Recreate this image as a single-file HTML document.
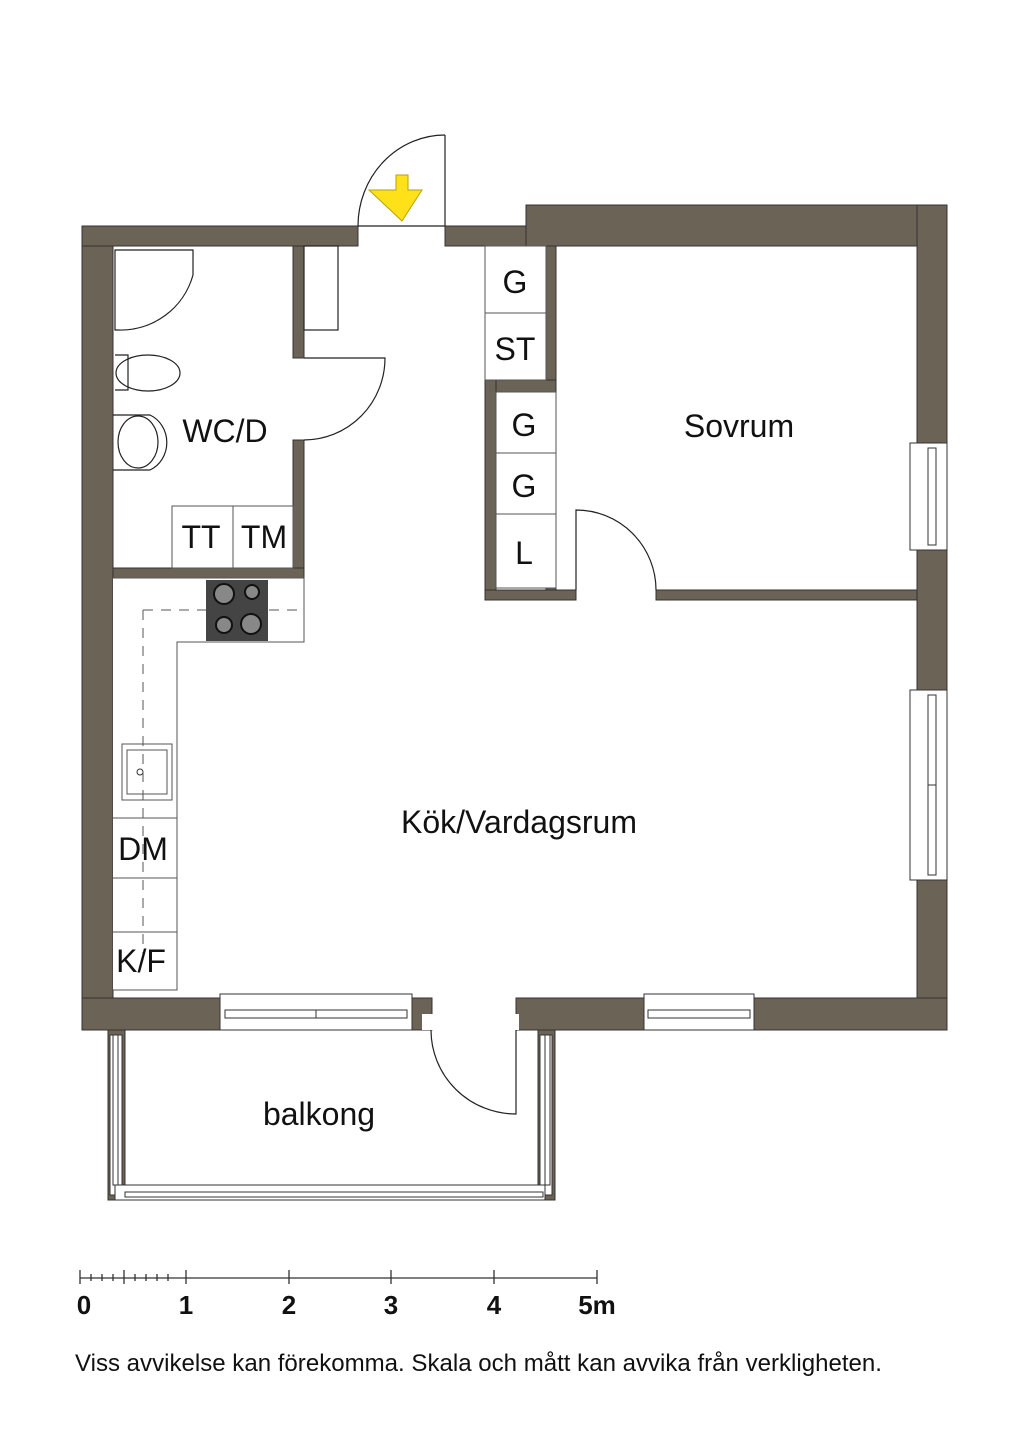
<!DOCTYPE html>
<html><head><meta charset="utf-8"><style>
html,body{margin:0;padding:0;background:#fff;}
svg{display:block;}
text{font-family:"Liberation Sans",Arial,sans-serif;fill:#111;}
</style></head><body>
<svg width="1024" height="1449" viewBox="0 0 1024 1449" xmlns="http://www.w3.org/2000/svg">
<g fill="#6b6356" stroke="#333" stroke-width="1">
<rect x="82" y="226" width="31" height="804"/>
<rect x="82" y="226" width="276" height="20"/>
<rect x="445" y="226" width="85" height="20"/>
<rect x="526" y="205" width="421" height="41"/>
<rect x="917" y="205" width="30" height="825"/>
<rect x="82" y="998" width="350" height="32"/>
<rect x="516" y="998" width="431" height="32"/>
<rect x="293" y="246" width="11" height="112"/>
<rect x="293" y="440" width="11" height="138"/>
<rect x="113" y="568" width="191" height="10"/>
<rect x="546" y="246" width="10" height="344"/>
<rect x="485" y="380" width="71" height="12"/>
<rect x="485" y="380" width="11" height="220"/>
<rect x="485" y="590" width="91" height="10"/>
<rect x="656" y="590" width="261" height="10"/>
</g>
<g fill="#fff" stroke="#333" stroke-width="1">
<rect x="220" y="994" width="192" height="36"/>
<rect x="225" y="1010" width="182" height="8"/>
<line x1="316" y1="1010" x2="316" y2="1018"/>
<rect x="644" y="994" width="110" height="36"/>
<rect x="648" y="1010" width="102" height="8"/>
<rect x="910" y="443" width="37" height="107"/>
<rect x="928" y="448" width="8" height="97"/>
<rect x="910" y="690" width="37" height="190"/>
<rect x="928" y="695" width="8" height="180"/>
<line x1="928" y1="785" x2="936" y2="785"/>
</g>
<rect x="413" y="999" width="18" height="30" fill="#6b6356"/>
<rect x="422" y="1014" width="12" height="16" fill="#fff"/>
<rect x="511" y="1014" width="8" height="16" fill="#fff"/>
<g fill="#fff" stroke="#333" stroke-width="1">
<rect x="108" y="1030" width="17" height="170" fill="#6b6356"/>
<rect x="538" y="1030" width="17" height="170" fill="#6b6356"/>
<rect x="110" y="1035" width="12" height="160"/>
<rect x="113" y="1035" width="5" height="150"/>
<rect x="540" y="1035" width="12" height="160"/>
<rect x="545" y="1035" width="5" height="150"/>
<rect x="115" y="1185" width="430" height="15"/>
<rect x="125" y="1192" width="418" height="5"/>
</g>
<g fill="none" stroke="#222" stroke-width="1.2">
<line x1="445" y1="135" x2="445" y2="226"/>
<path d="M445 135 A87 91 0 0 0 358 226"/>
<line x1="358" y1="226" x2="445" y2="226"/>
<path d="M304 358 L385 358 A81 82 0 0 1 304 440"/>
<path d="M576 590 L576 510 A80 80 0 0 1 656 590"/>
<path d="M431 1030 A85 84 0 0 0 516 1114 L516 1030"/>
<rect x="304" y="246" width="34" height="84"/>
<path d="M115 250 L193 250 L193 275 A75 75 0 0 1 118 330 L115 330 Z"/>
<path d="M115 355 L128 355 L128 390 L115 390"/>
<ellipse cx="148" cy="373" rx="32" ry="18"/>
<path d="M113 415 L150 415 A28 30 0 0 1 150 470 L113 470"/>
<ellipse cx="138" cy="442" rx="20" ry="26"/>
</g>
<g fill="#fff" stroke="#555" stroke-width="1">
<rect x="172" y="506" width="61" height="62"/>
<rect x="233" y="506" width="60" height="62"/>
<rect x="485" y="246" width="61" height="67"/>
<rect x="485" y="313" width="61" height="67"/>
<rect x="496" y="392" width="60" height="61"/>
<rect x="496" y="453" width="60" height="61"/>
<rect x="496" y="514" width="60" height="74"/>
<path d="M113 578 L304 578 L304 642 L177 642 L177 990 L113 990"/>
<line x1="113" y1="818" x2="177" y2="818"/>
<line x1="113" y1="878" x2="177" y2="878"/>
<line x1="113" y1="932" x2="177" y2="932"/>
<rect x="122" y="744" width="50" height="56"/>
<rect x="127" y="750" width="40" height="44"/>
</g>
<circle cx="140" cy="772" r="3" fill="none" stroke="#333"/>
<path d="M143 610 L300 610 M143 610 L143 960" stroke="#555" stroke-dasharray="10 8" fill="none"/>
<rect x="206" y="580" width="62" height="61" fill="#444"/>
<g fill="#888" stroke="#111" stroke-width="2">
<circle cx="224" cy="594" r="10"/><circle cx="252" cy="592" r="7"/>
<circle cx="224" cy="625" r="8"/><circle cx="251" cy="624" r="10"/>
</g>
<polygon points="396,175 408,175 408,190 422,190 402,221 369,190 396,190" fill="#ffe11a" stroke="#b8a200"/>
<g font-size="32" text-anchor="middle">
<text x="515" y="293">G</text><text x="515" y="360">ST</text>
<text x="524" y="436">G</text><text x="524" y="497">G</text><text x="524" y="564">L</text>
<text x="739" y="437">Sovrum</text>
<text x="225" y="442">WC/D</text>
<text x="201" y="548">TT</text><text x="264" y="548">TM</text>
<text x="519" y="833">Kök/Vardagsrum</text>
<text x="143" y="860">DM</text><text x="141" y="972">K/F</text>
<text x="319" y="1125">balkong</text>
</g>
<g stroke="#333" stroke-width="1.3">
<line x1="80" y1="1278" x2="597" y2="1278"/>
<line x1="80" y1="1270" x2="80" y2="1284"/>
<line x1="186" y1="1270" x2="186" y2="1284"/>
<line x1="289" y1="1270" x2="289" y2="1284"/>
<line x1="391" y1="1270" x2="391" y2="1284"/>
<line x1="494" y1="1270" x2="494" y2="1284"/>
<line x1="597" y1="1270" x2="597" y2="1284"/>
<line x1="124" y1="1270" x2="124" y2="1284"/>
<line x1="91" y1="1274" x2="91" y2="1281"/><line x1="102" y1="1274" x2="102" y2="1281"/><line x1="113" y1="1274" x2="113" y2="1281"/>
<line x1="135" y1="1274" x2="135" y2="1281"/><line x1="146" y1="1274" x2="146" y2="1281"/><line x1="157" y1="1274" x2="157" y2="1281"/><line x1="168" y1="1274" x2="168" y2="1281"/>
</g>
<g font-size="26" font-weight="bold" text-anchor="middle">
<text x="84" y="1314">0</text><text x="186" y="1314">1</text><text x="289" y="1314">2</text>
<text x="391" y="1314">3</text><text x="494" y="1314">4</text><text x="597" y="1314">5m</text>
</g>
<text x="75" y="1371" font-size="24" textLength="807" lengthAdjust="spacingAndGlyphs">Viss avvikelse kan förekomma. Skala och mått kan avvika från verkligheten.</text>
</svg>
</body></html>
